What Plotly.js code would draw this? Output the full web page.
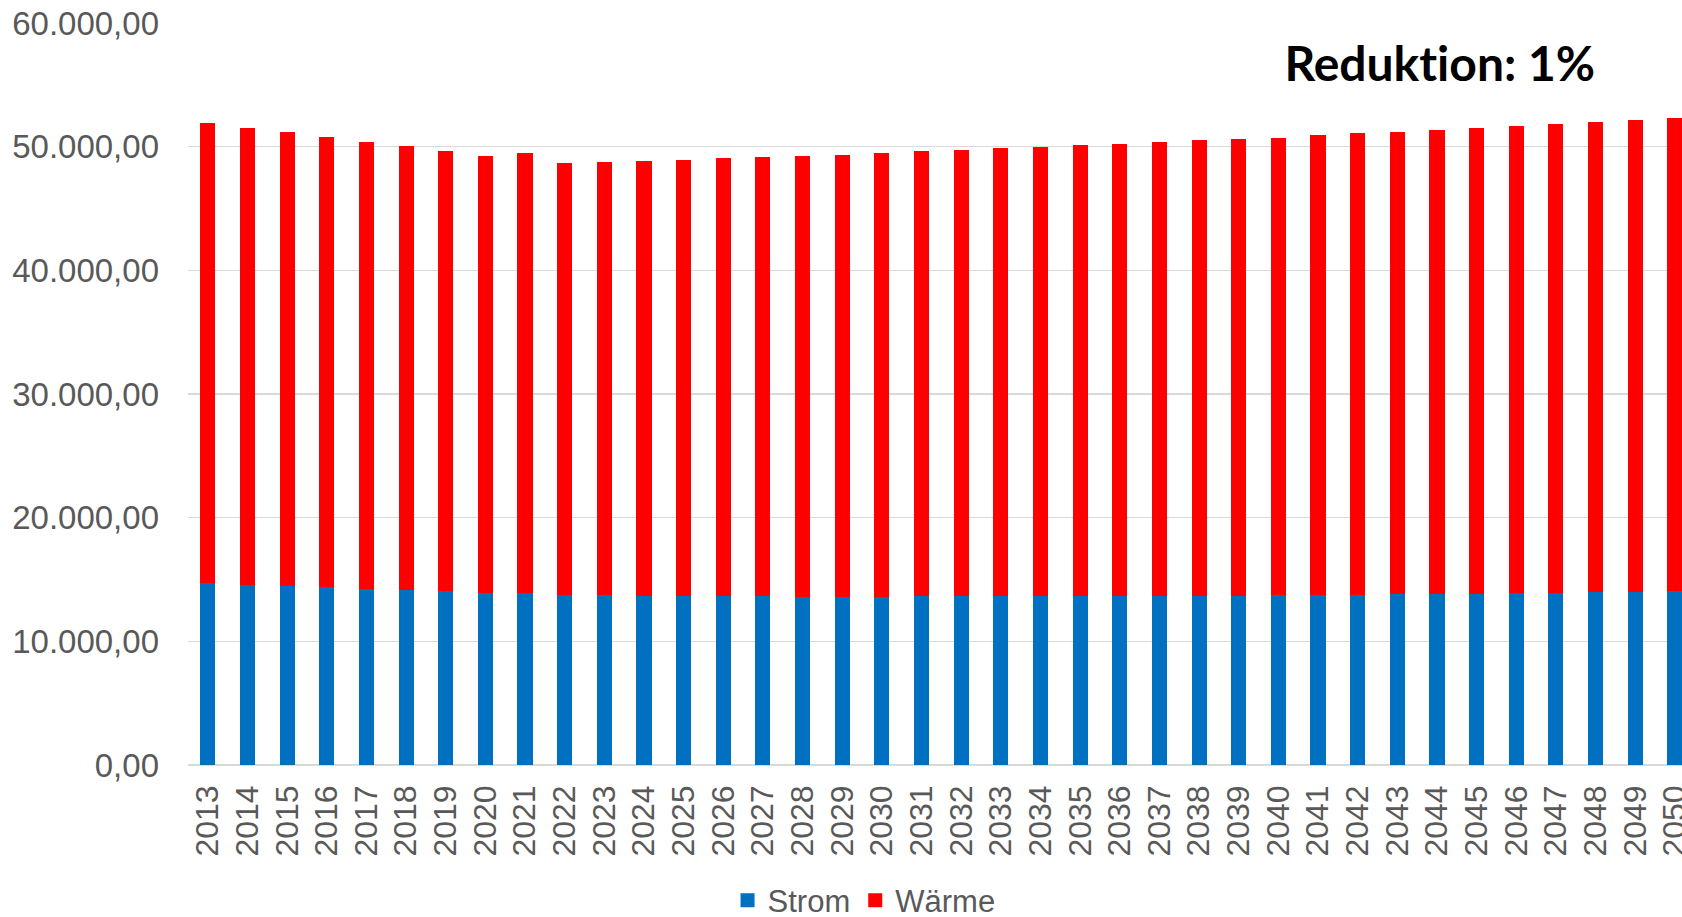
<!DOCTYPE html>
<html>
<head>
<meta charset="utf-8">
<script src="https://cdn.plot.ly/plotly-3.0.1.min.js"></script>
<style>
  html, body { margin: 0; padding: 0; background: #ffffff; }
  #chart { width: 1682px; height: 917px; }
  #chart svg text { font-variant-ligatures: none; font-feature-settings: "liga" 0; }
</style>
</head>
<body>
<div id="chart"></div>
<script>
// Years on the category axis
const years = [
  "2013","2014","2015","2016","2017","2018","2019","2020","2021","2022",
  "2023","2024","2025","2026","2027","2028","2029","2030","2031","2032",
  "2033","2034","2035","2036","2037","2038","2039","2040","2041","2042",
  "2043","2044","2045","2046","2047","2048","2049","2050"
];

// Electricity demand (lower stack)
const strom = [
  14825, 14663, 14582, 14474, 14340, 14259, 14124, 14016, 13962, 13854,
  13801, 13774, 13774, 13774, 13747, 13693, 13693, 13693, 13720, 13720,
  13720, 13720, 13747, 13720, 13774, 13774, 13774, 13801, 13827, 13854,
  13881, 13908, 13935, 13962, 13989, 14043, 14097, 14124
];

// Heat demand (upper stack)
const waerme = [
  37013, 36796, 36526, 36229, 35984, 35714, 35471, 35173, 35443, 34768,
  34902, 35010, 35091, 35253, 35361, 35469, 35577, 35685, 35875, 35956,
  36064, 36199, 36280, 36442, 36550, 36658, 36767, 36848, 37038, 37146,
  37227, 37362, 37470, 37633, 37768, 37849, 37957, 38092
];

const seriesNames = ["Strom", "Wärme"];
const scenarioLabel = "Reduktion: 1%";

const axisFamily = "Liberation Sans, Arial, sans-serif";
const grey = "#595959";

const traces = [
  {
    type: "bar",
    name: seriesNames[0],
    x: years,
    y: strom,
    marker: { color: "#0070C0", line: { color: "#0070C0", width: 2 } },
    hoverinfo: "x+y+name"
  },
  {
    type: "bar",
    name: seriesNames[1],
    x: years,
    y: waerme,
    marker: { color: "#FF0000", line: { color: "#FF0000", width: 2 } },
    hoverinfo: "x+y+name"
  }
];

const layout = {
  width: 1682,
  height: 917,
  margin: { l: 188, r: 0, t: 23, b: 152, pad: 0 },
  paper_bgcolor: "#ffffff",
  plot_bgcolor: "#ffffff",
  barmode: "stack",
  bargap: 0.67,
  separators: ",.",
  showlegend: true,
  xaxis: {
    type: "category",
    range: [-0.5, 37.18],
    tickmode: "array",
    tickvals: years,
    ticktext: years,
    tickangle: -90,
    tickfont: { family: axisFamily, size: 32, color: grey },
    ticks: "",
    ticklabelstandoff: 13,
    showgrid: false,
    zeroline: false,
    showline: false,
    automargin: false,
    fixedrange: true
  },
  yaxis: {
    range: [0, 60000],
    dtick: 10000,
    tickformat: ",.2f",
    tickfont: { family: axisFamily, size: 33, color: grey },
    ticks: "",
    ticklabelstandoff: 28,
    showgrid: true,
    gridcolor: "#d9d9d9",
    gridwidth: 1.5,
    zeroline: true,
    zerolinecolor: "#d9d9d9",
    zerolinewidth: 1.5,
    showline: false,
    automargin: false,
    fixedrange: true
  },
  legend: {
    orientation: "h",
    xref: "container",
    yref: "container",
    x: 0.5137,
    xanchor: "center",
    y: 0.018,
    yanchor: "middle",
    font: { family: axisFamily, size: 31, color: grey },
    bgcolor: "rgba(0,0,0,0)",
    traceorder: "normal"
  },
  annotations: [
    {
      text: "<b>" + scenarioLabel + "</b>",
      xref: "paper",
      yref: "paper",
      x: 0.838,
      y: 0.947,
      xanchor: "center",
      yanchor: "middle",
      showarrow: false,
      font: { family: "Lato, sans-serif", size: 48, color: "#000000" }
    }
  ]
};

Plotly.newPlot("chart", traces, layout, { displayModeBar: false, staticPlot: true });
</script>
</body>
</html>
